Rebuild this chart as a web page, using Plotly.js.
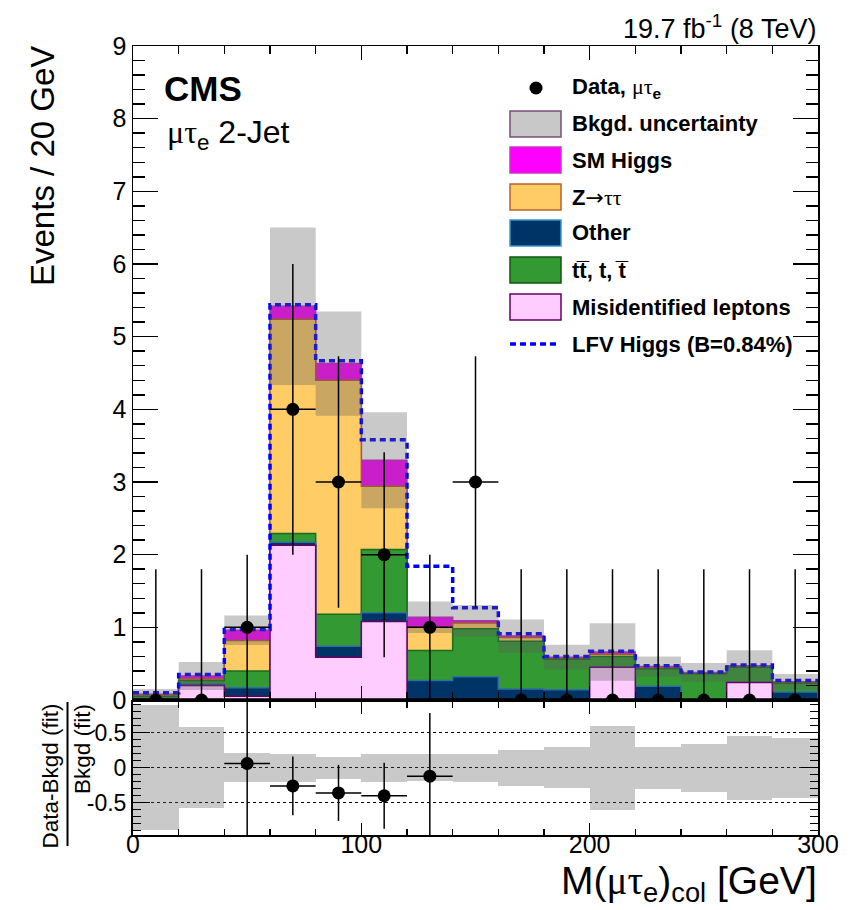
<!DOCTYPE html>
<html><head><meta charset="utf-8">
<script src="https://cdn.plot.ly/plotly-3.0.1.min.js"></script>
<style>html,body{margin:0;padding:0;background:#fff;} #chart{width:866px;height:910px;}</style>
</head><body><div id="chart"></div>
<script>
// ---------------- data ----------------
const binEdges = [0,20,40,60,80,100,120,140,160,180,200,220,240,260,280,300];
const misidLeptons = [0.01,0.20,0.05,2.13,0.59,1.08,0,0,0,0,0.45,0,0,0.24,0];
const otherBkg     = [0.01,0.02,0.12,0.04,0.15,0.12,0.27,0.32,0.15,0.14,0,0.19,0,0,0.11];
const topBkg       = [0.03,0.05,0.23,0.12,0.44,0.87,0.41,0.66,0.66,0.42,0.15,0.24,0.36,0.21,0.12];
const zTauTau      = [0.02,0.02,0.42,2.95,3.22,0.87,0.32,0.08,0.05,0.01,0.03,0.01,0.005,0.01,0.01];
const smHiggs      = [0.01,0.04,0.14,0.18,0.23,0.36,0.14,0.03,0.02,0.02,0.03,0.02,0.015,0.01,0.01];
const lfvHiggs     = [0.02,0.02,0.01,0.02,0.04,0.28,0.70,0.18,0.03,0.01,0.01,0.01,0.005,0.01,0.02];
const bkgRelUnc    = [0.89,0.58,0.21,0.20,0.155,0.20,0.19,0.20,0.26,0.29,0.60,0.30,0.34,0.46,0.43];
const dataCounts   = [0,0,1,4,3,2,1,3,0,0,0,0,0,0,0];
const dataErrUp    = [1.8,1.8,1,2,1.73,1.41,1,1.73,1.8,1.8,1.8,1.8,1.8,1.8,1.8];
const dataErrDown  = [0,0,1,2,1.73,1.41,1,1.73,0,0,0,0,0,0,0];
const ratioValues  = [null,null,0.06,-0.26,-0.36,-0.40,-0.12,null,null,null,null,null,null,null,null];
const ratioErrors  = [null,null,1.05,0.42,0.40,0.47,0.90,null,null,null,null,null,null,null,null];
const ratioTickVals = [-0.5,0,0.5];
const ratioTickText = ['-0.5','0','0.5'];

// ---------------- derived ----------------
const nb = binEdges.length - 1;
const centers = [], halfW = [], widths = [];
for (let i = 0; i < nb; i++) {
  centers.push((binEdges[i] + binEdges[i+1]) / 2);
  widths.push(binEdges[i+1] - binEdges[i]);
  halfW.push((binEdges[i+1] - binEdges[i]) / 2);
}
const add = (a, b) => a.map((v, i) => v + b[i]);
const c1 = misidLeptons.slice();
const c2 = add(c1, otherBkg);
const c3 = add(c2, topBkg);
const c4 = add(c3, zTauTau);
const c5 = add(c4, smHiggs);
const lfvTotal = add(c5, lfvHiggs);
const bandLo = c5.map((t,i)=>t*(1-bkgRelUnc[i]));
const bandHi = c5.map((t,i)=>t*(1+bkgRelUnc[i]));

function stepClosed(v) {
  const xs = [binEdges[0]], ys = [0];
  for (let i = 0; i < nb; i++) { xs.push(binEdges[i]); ys.push(v[i]); }
  xs.push(binEdges[nb]); ys.push(v[nb-1]);
  xs.push(binEdges[nb]); ys.push(0);
  return {xs, ys};
}
function stepOpen(v) {
  const xs = [], ys = [];
  for (let i = 0; i < nb; i++) { xs.push(binEdges[i]); ys.push(v[i]); }
  xs.push(binEdges[nb]); ys.push(v[nb-1]);
  return {xs, ys};
}
function stackTrace(v, fill, line) {
  const s = stepClosed(v);
  return {type:'scatter', mode:'lines', x:s.xs, y:s.ys, xaxis:'x', yaxis:'y',
    line:{shape:'hv', color:line, width:1.5}, fill:'tozeroy', fillcolor:fill,
    hoverinfo:'skip', showlegend:false};
}

const BAND = 'rgba(90,90,90,0.33)';
const traces = [
  stackTrace(c5, '#ff00ff', '#d020d0'),
  stackTrace(c4, '#ffcc66', '#b85c28'),
  stackTrace(c3, '#339933', '#1d6b1d'),
  stackTrace(c2, '#003366', '#2f6f9f'),
  stackTrace(c1, '#ffccff', '#660066'),
];
const lfv = stepOpen(lfvTotal);
traces.push({type:'scatter', mode:'lines', x:lfv.xs, y:lfv.ys, xaxis:'x', yaxis:'y',
  line:{shape:'hv', color:'#0000ff', width:3.5, dash:'6px,4px'}, showlegend:false, hoverinfo:'skip'});
// background uncertainty band (drawn above the stack, as in the reference)
const bl = stepOpen(bandLo), bh = stepOpen(bandHi);
traces.push({type:'scatter', mode:'lines', x:bl.xs, y:bl.ys, xaxis:'x', yaxis:'y',
  line:{shape:'hv', width:0, color:'rgba(0,0,0,0)'}, showlegend:false, hoverinfo:'skip'});
traces.push({type:'scatter', mode:'lines', x:bh.xs, y:bh.ys, xaxis:'x', yaxis:'y',
  line:{shape:'hv', width:0, color:'rgba(0,0,0,0)'}, fill:'tonexty', fillcolor:BAND,
  showlegend:false, hoverinfo:'skip'});
traces.push({type:'scatter', mode:'markers', x:centers, y:dataCounts, xaxis:'x', yaxis:'y',
  marker:{color:'black', size:13},
  error_y:{type:'data', symmetric:false, array:dataErrUp, arrayminus:dataErrDown, color:'black', thickness:1.5, width:0},
  error_x:{type:'data', array:halfW, color:'black', thickness:1.5, width:0},
  showlegend:false, hoverinfo:'skip'});
// ratio panel
traces.push({type:'bar', x:centers, width:widths,
  base:bkgRelUnc.map(u=>-u), y:bkgRelUnc.map(u=>2*u),
  marker:{color:BAND, line:{width:0}}, xaxis:'x2', yaxis:'y2', showlegend:false, hoverinfo:'skip'});
const rx=[], ry=[], re=[], rw=[];
for (let i = 0; i < nb; i++) if (ratioValues[i] !== null) { rx.push(centers[i]); ry.push(ratioValues[i]); re.push(ratioErrors[i]); rw.push(halfW[i]); }
traces.push({type:'scatter', mode:'markers', x:rx, y:ry, xaxis:'x2', yaxis:'y2',
  marker:{color:'black', size:13},
  error_y:{type:'data', array:re, color:'black', thickness:1.5, width:0},
  error_x:{type:'data', array:rw, color:'black', thickness:1.5, width:0},
  showlegend:false, hoverinfo:'skip'});

// ---------------- layout helpers (pixel -> paper) ----------------
const L=133, R=818, T=46, B=835, W=R-L, H=B-T;
const px = v => (v - L) / W;
const py = v => (B - v) / H;
const FONT = 'Liberation Sans, Arial, sans-serif';
const SERIF = 'Liberation Serif';

const shapes = [
  {type:'line', xref:'x', yref:'y', x0:0, x1:300, y0:0, y1:0, line:{color:'black', width:3.5}, layer:'above'},
  {type:'line', xref:'paper', yref:'paper', x0:px(67.5), x1:px(67.5), y0:py(702), y1:py(846), line:{color:'black', width:2}},
];
const annotations = [
  {xref:'paper', yref:'paper', x:px(818), y:py(27), xanchor:'right', yanchor:'middle', showarrow:false,
   text:'19.7 fb<sup>-1</sup> (8 TeV)', font:{size:27}},
  {xref:'paper', yref:'paper', x:px(162), y:py(89), xanchor:'left', yanchor:'middle', showarrow:false,
   text:'<b>CMS</b>', font:{size:35}},
  {xref:'paper', yref:'paper', x:px(165), y:py(134), xanchor:'left', yanchor:'middle', showarrow:false,
   text:"<span style='font-family:"+SERIF+"'>μτ</span><sub>e</sub> 2-Jet", font:{size:32}},
  {xref:'paper', yref:'paper', x:px(43), y:py(44), xanchor:'center', yanchor:'top', textangle:-90, showarrow:false,
   text:'Events / 20 GeV', font:{size:33}},
  {xref:'paper', yref:'paper', x:px(819), y:py(910), xanchor:'right', yanchor:'bottom', showarrow:false,
   text:"M(<span style='font-family:"+SERIF+"'>μτ</span><sub>e</sub>)<sub>col</sub> [GeV]", font:{size:39}},
  {xref:'paper', yref:'paper', x:px(50), y:py(702), xanchor:'center', yanchor:'top', textangle:-90, showarrow:false,
   text:'Data-Bkgd (fit)', font:{size:22.5}},
  {xref:'paper', yref:'paper', x:px(82), y:py(702), xanchor:'center', yanchor:'top', textangle:-90, showarrow:false,
   text:'Bkgd (fit)', font:{size:22.5}},
];

// legend (drawn manually)
const legRows = [
  {y:88,  kind:'marker', text:"<b>Data,</b> <span style='font-family:"+SERIF+";font-weight:normal'>μτ</span><sub><b>e</b></sub>"},
  {y:124, kind:'box', fill:'#c8c8c8', line:'#7a4f7a', text:'<b>Bkgd. uncertainty</b>'},
  {y:160, kind:'box', fill:'#ff00ff', line:'#d030d0', text:'<b>SM Higgs</b>'},
  {y:197, kind:'box', fill:'#ffcc66', line:'#c0602a', text:"<b>Z</b><span style='font-family:DejaVu Sans'>→</span><span style='font-family:"+SERIF+"'>ττ</span>"},
  {y:233, kind:'box', fill:'#003366', line:'#3399cc', text:'<b>Other</b>'},
  {y:270, kind:'box', fill:'#339933', line:'#115511', text:'<b>tt\u0305, t, t\u0305</b>'},
  {y:307, kind:'box', fill:'#ffccff', line:'#660066', text:'<b>Misidentified leptons</b>'},
  {y:344, kind:'line', text:'<b>LFV Higgs (B=0.84%)</b>'},
];
legRows.forEach(r => {
  if (r.kind === 'box') {
    shapes.push({type:'rect', xref:'paper', yref:'paper', x0:px(510), x1:px(561), y0:py(r.y+13), y1:py(r.y-13),
      fillcolor:r.fill, line:{color:r.line, width:1.5}});
  } else if (r.kind === 'line') {
    shapes.push({type:'line', xref:'paper', yref:'paper', x0:px(510), x1:px(558), y0:py(r.y), y1:py(r.y),
      line:{color:'#0000ff', width:3.5, dash:'6px,4px'}});
  } else {
    shapes.push({type:'circle', xref:'paper', yref:'paper', x0:px(529.5), x1:px(542.5), y0:py(94.5), y1:py(81.5),
      fillcolor:'black', line:{color:'black', width:0}});
  }
  annotations.push({xref:'paper', yref:'paper', x:px(570), y:py(r.y), xanchor:'left', yanchor:'middle',
    showarrow:false, text:r.text, font:{size:22}});
});

const axBase = {showline:true, linecolor:'black', mirror:'ticks', ticks:'inside', tickcolor:'black',
  showgrid:false, zeroline:false, fixedrange:true};
const layout = {
  width:866, height:910, autosize:false,
  margin:{l:L, r:866-R, t:T, b:910-B, pad:0},
  paper_bgcolor:'white', plot_bgcolor:'white',
  font:{family:FONT, color:'black', size:22},
  barmode:'overlay', bargap:0, showlegend:false,
  xaxis: Object.assign({}, axBase, {domain:[0,1], anchor:'y', range:[0,300], dtick:100, tick0:0,
    showticklabels:false, ticklen:14, tickwidth:1.5, linewidth:1.5,
    minor:{tickmode:'linear', tick0:0, dtick:20, ticks:'inside', ticklen:8, tickwidth:1.5, tickcolor:'black'}}),
  yaxis: Object.assign({}, axBase, {domain:[(B-700)/H, 1], anchor:'x', range:[0,9], dtick:1, tick0:0,
    ticklen:25, tickwidth:1.5, linewidth:1.5, tickfont:{size:25},
    minor:{tickmode:'linear', tick0:0, dtick:0.2, ticks:'inside', ticklen:12, tickwidth:1.5, tickcolor:'black'}}),
  xaxis2: Object.assign({}, axBase, {domain:[0,1], anchor:'y2', range:[0,300], dtick:100, tick0:0,
    ticklen:12, tickwidth:1.5, linewidth:2, tickfont:{size:25}, ticklabelstandoff:-14,
    minor:{tickmode:'linear', tick0:0, dtick:20, ticks:'inside', ticklen:6, tickwidth:1.5, tickcolor:'black'}}),
  yaxis2: Object.assign({}, axBase, {domain:[0, (B-701.5)/H], anchor:'x2', range:[-0.961,0.946],
    tickmode:'array', tickvals:ratioTickVals, ticktext:ratioTickText,
    ticklen:17, tickwidth:1.5, linewidth:2, tickfont:{size:23},
    showgrid:true, gridcolor:'black', gridwidth:1.3, griddash:'3px,3px',
    minor:{tickmode:'linear', tick0:0, dtick:0.1, ticks:'inside', ticklen:8, tickwidth:1.5, tickcolor:'black'}}),
  shapes: shapes,
  annotations: annotations,
};
Plotly.newPlot('chart', traces, layout, {staticPlot:true, displayModeBar:false});
</script>
</body></html>
